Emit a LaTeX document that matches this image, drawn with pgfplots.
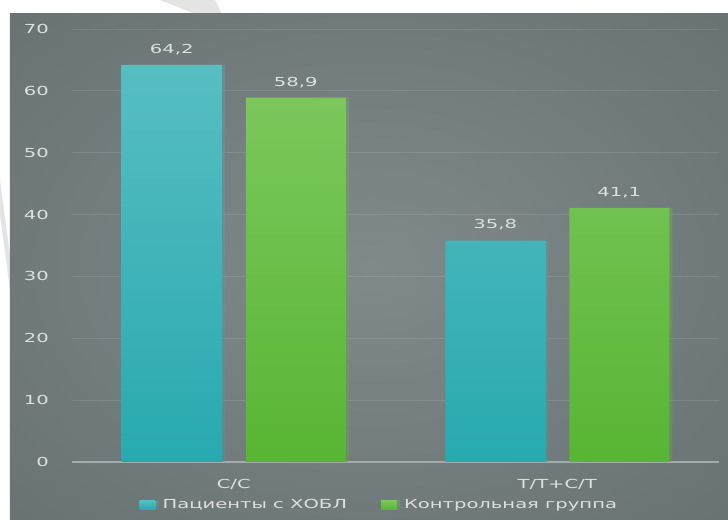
\documentclass[border=0pt]{standalone}
\usepackage{fontspec}
\setmainfont{DejaVu Sans}[FakeStretch=1.57]
\usepackage{pgfplots}
\pgfplotsset{compat=1.18}
\usetikzlibrary{shadows}
\definecolor{txt}{HTML}{DCE0E0}
\definecolor{axc}{HTML}{A3ABAB}
\definecolor{tealtop}{HTML}{57BEC1}
\definecolor{tealbot}{HTML}{28A9B0}
\definecolor{greentop}{HTML}{7CC75C}
\definecolor{greenbot}{HTML}{58B533}
\definecolor{bgc}{HTML}{808A8A}
\definecolor{bgm}{HTML}{6C7676}
\definecolor{bge}{HTML}{596262}
\definecolor{wm}{HTML}{E4E4E4}
\pgfdeclareradialshading{bgshade}{\pgfpoint{0bp}{0bp}}{color(0bp)=(bgc); color(30bp)=(bgm); color(62bp)=(bge); color(70bp)=(bge)}
\begin{document}
\begin{tikzpicture}
\useasboundingbox (-72bp,-58bp) rectangle (656bp,462bp);
\fill[white] (-72bp,-58bp) rectangle (656bp,462bp);
% faint watermark strokes in the white margin
\fill[wm] (88bp,462bp) -- (143bp,462bp) -- (150bp,448bp) -- (123bp,448bp) -- cycle;
\fill[wm] (-72bp,282bp) -- (-72bp,247bp) -- (-62bp,172bp) -- (-62bp,207bp) -- cycle;
\shade[shading=bgshade] (-62bp,-58bp) rectangle (656bp,448bp);
\begin{axis}[
  at={(0,0)}, anchor=south west,
  scale only axis, width=647bp, height=433bp,
  xmin=-0.5, xmax=1.5, ymin=0, ymax=70,
  ybar=24bp, bar width=100bp,
  axis line style={draw=none},
  major tick style={draw=none},
  ytick={0,10,...,70},
  xtick={0,1}, xticklabels={C/C, T/T+C/T},
  ymajorgrids,
  grid style={color=white, opacity=0.1, line width=1bp},
  extra y ticks={0}, extra y tick labels={},
  extra y tick style={grid style={color=axc, opacity=1, line width=1.6bp}},
  /pgf/number format/assume math mode=true,
  tick label style={font=\fontsize{12.5}{14}\selectfont, color=txt},
  yticklabel style={inner sep=0pt, xshift=-23bp},
  xticklabel style={inner sep=0pt, yshift=-13bp},
  legend columns=2,
  legend style={draw=none, fill=none, at={(0.475,-0.0993)}, anchor=center,
    font=\fontsize{12.5}{14}\selectfont, text=txt,
    /tikz/every even column/.append style={column sep=32bp}},
  legend image code/.code={\fill[#1] (0bp,-4.5bp) rectangle (16bp,4.5bp);},
  nodes near coords={\pgfmathprintnumber[fixed,fixed zerofill,precision=1,use comma,assume math mode=true]{\pgfplotspointmeta}},
  every node near coord/.append style={font=\fontsize{12.5}{14}\selectfont, color=txt, inner sep=0pt, yshift=10bp, anchor=south},
]
\addplot[draw=none, top color=tealtop, bottom color=tealbot, drop shadow={shadow xshift=3bp, shadow yshift=0bp, opacity=0.25}] coordinates {(0,64.2) (1,35.8)};
\addlegendentry{\hspace*{5bp}Пациенты с ХОБЛ}
\addplot[draw=none, top color=greentop, bottom color=greenbot, drop shadow={shadow xshift=3bp, shadow yshift=0bp, opacity=0.25}] coordinates {(0,58.9) (1,41.1)};
\addlegendentry{\hspace*{5bp}Контрольная группа}
\end{axis}
\end{tikzpicture}
\end{document}
